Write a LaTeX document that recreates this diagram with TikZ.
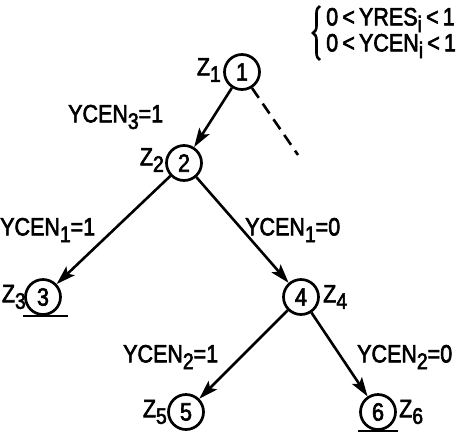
\documentclass[tikz,border=0pt]{standalone}
\usepackage{fontspec}
\setmainfont{Liberation Sans}[FakeStretch=0.86,FakeBold=2.5]
\usepackage{graphicx}
\usetikzlibrary{arrows.meta,decorations.pathreplacing}
\newcommand\sbs[1]{\raisebox{-0.5ex}{\scalebox{0.9}{#1}}}
\begin{document}
\begin{tikzpicture}[x=1pt,y=-1pt,
  state/.style={circle,draw,line width=2.7pt,minimum size=35pt,inner sep=0pt,font=\fontsize{25}{25}\selectfont},
  lbl/.style={inner sep=0pt,font=\fontsize{25}{25}\selectfont},
  edge/.style={line width=2.6pt,-{Stealth[length=19pt,width=12pt,inset=4pt]}},
  leafline/.style={line width=2.6pt}]
\useasboundingbox (0,0) rectangle (474,440);
\node[state] (n1) at (242,72) {1};
\node[state] (n2) at (184,163) {2};
\node[state] (n3) at (43,297) {3};
\node[state] (n4) at (301,297) {4};
\node[state] (n5) at (186,412) {5};
\node[state] (n6) at (378,412) {6};
\node[lbl,anchor=east] (z1) at (221,70) {Z\sbs{1}};
\node[lbl,anchor=east] (z2) at (164,160) {Z\sbs{2}};
\node[lbl,anchor=east] (z3) at (26,297) {Z\sbs{3}};
\node[lbl,anchor=west] (z4) at (323,297) {Z\sbs{4}};
\node[lbl,anchor=east] (z5) at (167,412) {Z\sbs{5}};
\node[lbl,anchor=west] (z6) at (399,412) {Z\sbs{6}};
\draw[edge] (n1) -- (n2);
\draw[edge] (n2) -- (n3);
\draw[edge] (n2) -- (n4);
\draw[edge] (n4) -- (n5);
\draw[edge] (n4) -- (n6);
\coordinate (dend) at (298,155);
\draw[line width=2.6pt,dash pattern=on 12pt off 7pt] (n1.-58) -- (dend);
\draw[leafline] ([xshift=-20pt]n3.south) -- ([xshift=25pt]n3.south);
\draw[leafline] ([xshift=-20pt]n6.south) -- ([xshift=20pt]n6.south);
\node[lbl,anchor=west] (e12) at (68,117) {YCEN\sbs{3}=1};
\node[lbl,anchor=west] (e23) at (0,230) {YCEN\sbs{1}=1};
\node[lbl,anchor=west] (e24) at (245,230) {YCEN\sbs{1}=0};
\node[lbl,anchor=west] (e45) at (123,357) {YCEN\sbs{2}=1};
\node[lbl,anchor=west] (e46) at (357,357) {YCEN\sbs{2}=0};
\draw[line width=2.6pt,decorate,decoration={brace,amplitude=7pt}] (320,60) -- (320,6);
\node[lbl,anchor=west] (c1) at (326,20) {0\,<\,YRES\sbs{i}\,<\,1};
\node[lbl,anchor=west] (c2) at (326,46) {0\,<\,YCEN\sbs{i}\,<\,1};
\end{tikzpicture}
\end{document}
